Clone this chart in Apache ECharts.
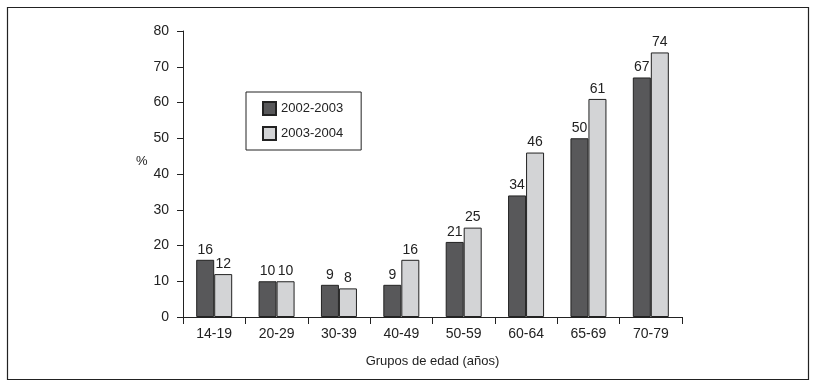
<!DOCTYPE html>
<html>
<head>
<meta charset="utf-8">
<script src="https://cdn.jsdelivr.net/npm/echarts@6/dist/echarts.min.js"></script>
<style>
html, body { margin: 0; padding: 0; background: #fff; }
#chart { width: 817px; height: 387px; }
</style>
</head>
<body>
<div id="chart"></div>
<script>
// grupos de edad y porcentajes
var grupos = ['14-19', '20-29', '30-39', '40-49', '50-59', '60-64', '65-69', '70-79'];
var serie1 = [16, 10, 9, 9, 21, 34, 50, 67];
var serie2 = [12, 10, 8, 16, 25, 46, 61, 74];
var leyenda = ['2002-2003', '2003-2004'];

var fuente = '"Liberation Sans", Arial, sans-serif';
var chart = echarts.init(document.getElementById('chart'));

var etiqueta = {
	show: true,
	position: 'top',
	distance: 3,
	color: '#222',
	fontSize: 14,
	fontFamily: fuente
};

chart.setOption({
	animation: false,
	textStyle: { fontFamily: fuente },
	graphic: [{
		type: 'rect',
		shape: { x: 7.5, y: 7.5, width: 801, height: 372 },
		style: { fill: 'none', stroke: '#222', lineWidth: 1.2 }
	}, {
		type: 'text',
		left: 136,
		top: 155,
		style: { text: '%', fill: '#222', font: '13px ' + fuente }
	}],
	legend: {
		data: leyenda,
		orient: 'vertical',
		left: 246,
		top: 92,
		padding: [9, 18, 9, 16],
		itemGap: 10,
		itemWidth: 13,
		itemHeight: 13,
		borderColor: '#222',
		borderWidth: 1,
		icon: 'rect',
		textStyle: { color: '#222', fontSize: 13, fontFamily: fuente }
	},
	grid: { left: 183, right: 135, top: 31, bottom: 70 },
	xAxis: {
		type: 'category',
		data: grupos,
		name: 'Grupos de edad (años)',
		nameLocation: 'middle',
		nameGap: 38,
		nameTextStyle: { color: '#222', fontSize: 13, fontFamily: fuente },
		axisLine: { lineStyle: { color: '#222', width: 1 } },
		axisTick: { show: true, length: 7, lineStyle: { color: '#222' } },
		axisLabel: { color: '#222', fontSize: 14, margin: 10, fontFamily: fuente }
	},
	yAxis: {
		type: 'value',
		min: 0,
		max: 80,
		interval: 10,
		axisLine: { show: true, lineStyle: { color: '#222', width: 1 } },
		axisTick: { show: true, length: 6, lineStyle: { color: '#222' } },
		axisLabel: { color: '#222', fontSize: 14, margin: 14, fontFamily: fuente },
		splitLine: { show: false }
	},
	series: [{
		name: leyenda[0],
		type: 'bar',
		data: serie1,
		barWidth: 18,
		barGap: '0%',
		itemStyle: { color: '#58585a', borderColor: '#222', borderWidth: 1 },
		label: etiqueta
	}, {
		name: leyenda[1],
		type: 'bar',
		data: serie2,
		barWidth: 18,
		barGap: '0%',
		itemStyle: { color: '#d3d4d6', borderColor: '#222', borderWidth: 1 },
		label: etiqueta
	}]
});
</script>
</body>
</html>
